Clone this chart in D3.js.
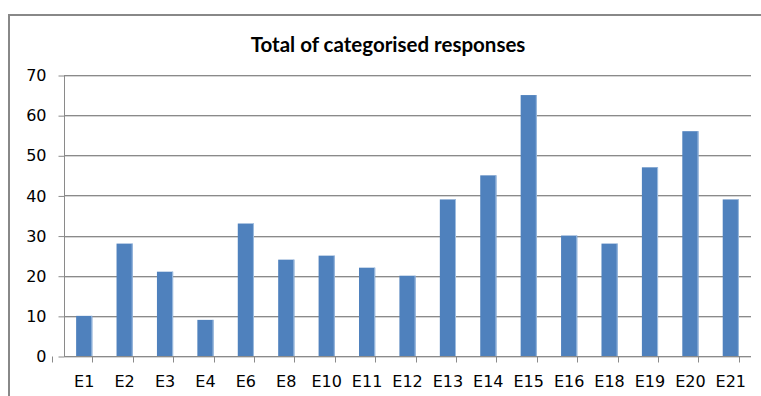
<!DOCTYPE html>
<html>
<head>
<meta charset="utf-8">
<script src="https://cdn.jsdelivr.net/npm/d3@7/dist/d3.min.js"></script>
<style>
  html, body { margin: 0; padding: 0; background: #fff; }
  svg { display: block; }
</style>
</head>
<body>
<svg id="chart" width="761" height="396"></svg>
<script>
// Category labels and counts per category
const categories = ["E1","E2","E3","E4","E6","E8","E10","E11","E12","E13","E14","E15","E16","E18","E19","E20","E21"];
const values = [10, 28, 21, 9, 33, 24, 25, 22, 20, 39, 45, 65, 30, 28, 47, 56, 39];
const yTicks = [0, 10, 20, 30, 40, 50, 60, 70];
const title = "Total of categorised responses";

const svg = d3.select("#chart");
const W = 761, H = 396;
const plot = { left: 64, right: 751, top: 75, bottom: 356 };
const labelFont = "'DejaVu Sans', Verdana, sans-serif";

// Outer chart frame (top and left edges visible)
svg.append("path")
  .attr("d", `M9,${H + 5} L9,15 L${W + 5},15`)
  .attr("fill", "none")
  .attr("stroke", "#888")
  .attr("stroke-width", 2);

// Title
svg.append("text")
  .attr("x", 388)
  .attr("y", 51.5)
  .attr("text-anchor", "middle")
  .attr("font-family", "Lato, 'Open Sans', sans-serif")
  .attr("font-weight", "bold")
  .attr("font-size", 20.5)
  .attr("fill", "#000")
  .text(title);

const x = d3.scaleBand()
  .domain(categories)
  .range([plot.left, plot.right])
  .paddingInner(0.6)
  .paddingOuter(0.3);

const y = d3.scaleLinear()
  .domain([0, 70])
  .range([plot.bottom, plot.top]);

// Horizontal gridlines with a faint shadow line beneath
const grid = svg.append("g");
yTicks.filter(t => t > 0).forEach(t => {
  const yy = Math.round(y(t)) + 0.5;
  grid.append("line")
    .attr("x1", plot.left).attr("x2", plot.right)
    .attr("y1", yy + 1).attr("y2", yy + 1)
    .attr("stroke", "#d6d6d6");
  grid.append("line")
    .attr("x1", plot.left).attr("x2", plot.right)
    .attr("y1", yy).attr("y2", yy)
    .attr("stroke", "#8a8a8a");
});

// Bars
const bars = svg.append("g");
categories.forEach((c, i) => {
  const bx = x(c), bw = x.bandwidth();
  const top = y(values[i]);
  bars.append("rect")
    .attr("x", bx).attr("y", top)
    .attr("width", bw).attr("height", y(0) - top)
    .attr("fill", "#4f81bd");
  bars.append("rect")
    .attr("x", bx + bw - 1).attr("y", top)
    .attr("width", 1).attr("height", y(0) - top)
    .attr("fill", "#9fbde0");
});

// Y axis
const yAxis = d3.axisLeft(y)
  .tickValues(yTicks)
  .tickSize(6)
  .tickPadding(12)
  .tickFormat(d3.format("d"));
const gy = svg.append("g")
  .attr("transform", `translate(${plot.left + 0.5},0.5)`)
  .call(yAxis);
gy.attr("font-family", labelFont).attr("font-size", 16);
gy.select(".domain").attr("stroke", "#8a8a8a").attr("d", `M0,${plot.top}V${plot.bottom}`);
gy.selectAll(".tick line").attr("stroke", "#8a8a8a");
gy.selectAll(".tick text")
  .attr("font-family", labelFont)
  .attr("font-size", 16)
  .attr("fill", "#000");

// X axis: ticks sit on category boundaries
const gx = svg.append("g")
  .attr("transform", `translate(0,${Math.round(plot.bottom) + 0.5})`);
gx.append("line")
  .attr("x1", plot.left).attr("x2", plot.right)
  .attr("stroke", "#8a8a8a");
gx.append("line")
  .attr("x1", plot.left).attr("x2", plot.right)
  .attr("y1", 1).attr("y2", 1)
  .attr("stroke", "#d6d6d6");
const step = x.step();
const boundaries = d3.range(categories.length + 1).map(i => x(categories[0]) - x.paddingOuter() * step - x.paddingInner() * step / 2 + i * step);
gx.selectAll(".btick").data(boundaries).join("line")
  .attr("class", "btick")
  .attr("x1", d => Math.round(d) + 0.5).attr("x2", d => Math.round(d) + 0.5)
  .attr("y1", 0).attr("y2", 6)
  .attr("stroke", "#8a8a8a");
gx.selectAll(".clabel").data(categories).join("text")
  .attr("class", "clabel")
  .attr("x", d => x(d) + x.bandwidth() / 2)
  .attr("y", 30)
  .attr("text-anchor", "middle")
  .attr("font-family", labelFont)
  .attr("font-size", 16)
  .attr("fill", "#000")
  .text(d => d);
</script>
</body>
</html>
